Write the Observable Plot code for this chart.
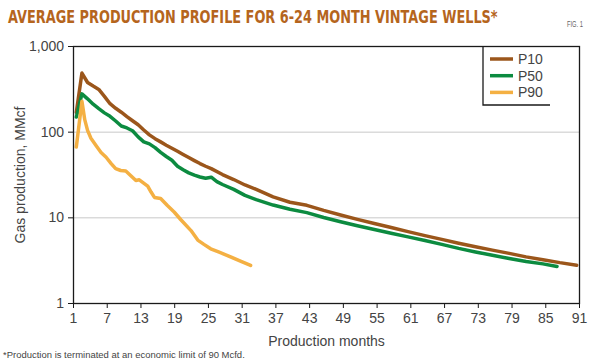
<!DOCTYPE html>
<html><head><meta charset="utf-8">
<script src="https://cdn.jsdelivr.net/npm/d3@7"></script>
<script src="https://cdn.jsdelivr.net/npm/@observablehq/plot@0.6"></script>
<style>
html,body{margin:0;padding:0;background:#fff;overflow:hidden}
#chart{position:relative;width:600px;height:362px}
</style></head><body><div id="chart"></div>
<script>
const titleText = "AVERAGE PRODUCTION PROFILE FOR 6-24 MONTH VINTAGE WELLS*";
const figText = "FIG. 1";
const footnoteText = "*Production is terminated at an economic limit of 90 Mcfd.";
const xLabel = "Production months";
const yLabel = "Gas production, MMcf";

const seriesNames = ["P10", "P50", "P90"];
const seriesColors = ["#9b561b", "#0c8b40", "#f4b043"];

const p10Months = [1.5,2.5,3.5,4.5,5.5,6.5,7.5,8.5,9.5,10.5,11.5,12.5,13.5,14.5,15.5,16.5,17.5,18.5,19.5,20.5,21.5,22.5,23.5,24.5,25.5,27.5,29.5,31.5,33.5,36.5,39.5,42.5,45.5,48.5,51.5,54.5,57.5,60.5,63.5,66.5,69.5,72.5,75.5,78.5,81.5,84.5,87.5,90.5];
const p10Values = [170,490,380,345,315,262,215,190,171,152,136,122,106,93,84,77,70.5,65,60,55,50.5,46.5,43,40,37.5,32,28,24.2,21.5,17.6,15.2,14.0,12.2,10.8,9.6,8.6,7.7,6.9,6.2,5.6,5.05,4.6,4.2,3.85,3.5,3.25,3.0,2.8];

const p50Months = [1.5,2.5,3.5,4.5,5.5,6.5,7.5,8.5,9.5,10.5,11.5,12.5,13.5,14.5,15.5,16.5,17.5,18.5,19.5,20.5,21.5,22.5,23.5,24.5,25.5,26.5,27.5,29.5,31.5,33.5,36.5,39.5,42.5,45.5,48.5,51.5,54.5,57.5,60.5,63.5,66.5,69.5,72.5,75.5,78.5,81.5,84.5,87];
const p50Values = [150,280,245,212,188,168,153,135,118,112,104,88,77,73,66,58,52,47,40,36.5,33.5,31.5,30,29,29.8,26.5,24.5,21.5,18.3,16.3,14.1,12.6,11.5,10.1,9.0,8.1,7.3,6.6,6.0,5.45,4.9,4.4,4.0,3.65,3.35,3.1,2.9,2.7];

const p90Months = [1.5,2.5,3.0,3.5,4.1,5.0,5.9,6.8,7.7,8.5,9.4,10.3,11.2,12.1,12.7,13.3,14.2,14.8,15.4,16.5,17.7,18.9,20.1,21.9,23.1,24.2,25.4,26.8,28.4,30.8,32.5];
const p90Values = [67,230,140,105,85,70,58,51,43,37.5,35.7,35.2,31,27.3,27.8,26,23.5,20,17.3,16.8,13.9,11.7,9.5,7.1,5.5,4.9,4.35,4.0,3.63,3.1,2.78];

const xTicks = [1,7,13,19,25,31,37,43,49,55,61,67,73,79,85,91];
const yTicks = [1,10,100,1000];
const gridValues = [10,100];

const monthsBySeries = [p10Months, p50Months, p90Months];
const valuesBySeries = [p10Values, p50Values, p90Values];
const data = [];
seriesNames.forEach((name, i) => {
  monthsBySeries[i].forEach((m, j) => data.push({series: name, month: m, value: valuesBySeries[i][j]}));
});

const plot = Plot.plot({
  width: 600, height: 362,
  marginTop: 46, marginRight: 21, marginBottom: 59, marginLeft: 73,
  style: {fontFamily: "'Liberation Sans', Arial, sans-serif", fontSize: "14px", color: "#333", background: "#fff"},
  x: {domain: [1, 91]},
  y: {type: "log", domain: [1, 1000]},
  color: {domain: seriesNames, range: seriesColors},
  marks: [
    Plot.gridY(gridValues, {stroke: "#c8c8c8", strokeOpacity: 1, strokeWidth: 1}),
    Plot.line(data, {x: "month", y: "value", z: "series", stroke: "series", strokeWidth: 3.5, strokeLinejoin: "round"}),
    Plot.frame({stroke: "#1a1a1a", strokeWidth: 1.3}),
    Plot.axisX(xTicks, {tickSize: 5, tickPadding: 4.5, stroke: "#1a1a1a", fill: "#444", label: xLabel, labelAnchor: "center", labelArrow: "none", labelOffset: 42}),
    Plot.axisY(yTicks, {tickSize: 5, tickPadding: 4.5, stroke: "#1a1a1a", fill: "#444", tickFormat: d3.format(","), label: yLabel, labelAnchor: "center", labelArrow: "none", labelOffset: 58})
  ]
});
document.getElementById("chart").appendChild(plot);

const svg = d3.select(plot);
// text squeezed horizontally to a target width (condensed look)
function squeezed(parent, str, x, y, width, size, family, weight, fill) {
  const g = parent.append("g");
  const t = g.append("text").attr("text-anchor", "start")
    .attr("font-family", family).attr("font-weight", weight).attr("font-size", size)
    .attr("fill", fill).text(str);
  const natural = t.node().getComputedTextLength() || width;
  g.attr("transform", `translate(${x},${y}) scale(${width / natural},1)`);
  return g;
}
squeezed(svg, titleText, 8, 23, 490, 18, "'DejaVu Sans', sans-serif", "bold", "#b5651d");
squeezed(svg, figText, 567, 27, 16, 9, "'Liberation Sans', sans-serif", "normal", "#666");
squeezed(svg, footnoteText, 3, 358, 242, 9.5, "'Liberation Sans', sans-serif", "normal", "#444");

// legend
const lg = svg.append("g").attr("text-anchor", "start");
lg.append("path").attr("d", "M483,46V105H550").attr("fill", "none").attr("stroke", "#1a1a1a").attr("stroke-width", 1.3);
seriesNames.forEach((name, i) => {
  const y = 59 + i * 16.7;
  lg.append("line").attr("x1", 490).attr("x2", 513).attr("y1", y).attr("y2", y)
    .attr("stroke", seriesColors[i]).attr("stroke-width", 3.5);
  lg.append("text").attr("x", 518).attr("y", y + 5).attr("font-size", 14).attr("text-anchor", "start")
    .attr("font-family", "'Liberation Sans', sans-serif").attr("fill", "#444").text(name);
});
</script></body></html>
